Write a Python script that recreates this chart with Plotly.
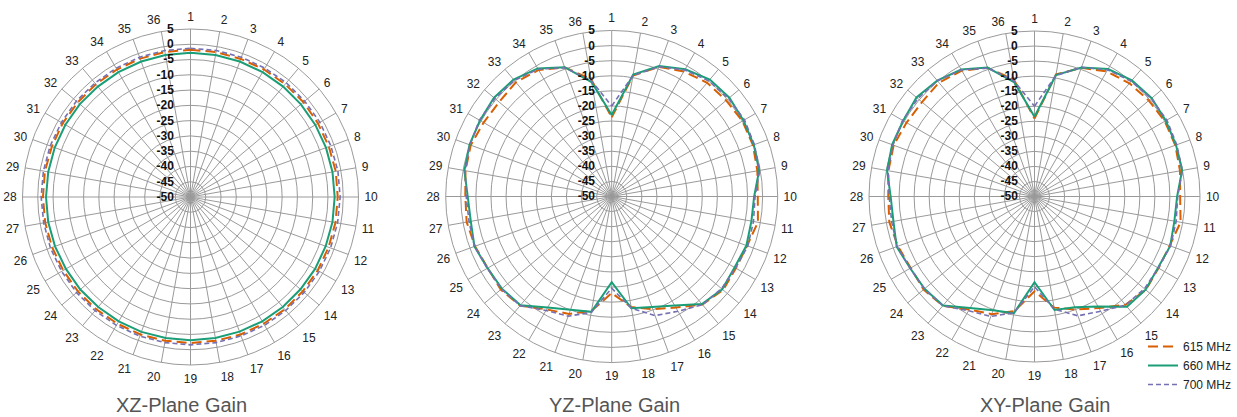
import plotly.graph_objects as go

angles = [str(i) for i in range(1, 37)]
series_names = ["615 MHz", "660 MHz", "700 MHz"]
radial_ticks = [5, 0, -5, -10, -15, -20, -25, -30, -35, -40, -45, -50]
titles = ["XZ-Plane Gain", "YZ-Plane Gain", "XY-Plane Gain"]

# XZ-plane gain (dBi)
xz_615 = [-1.8, -1.8, -1.9, -1.8, -1.8, -1.7, -1.8, -1.8, -1.7, -1.8, -1.8, -1.9, -1.9, -2.0, -2.0, -2.1,
          -2.1, -2.2, -2.2, -2.2, -2.1, -2.1, -2.0, -1.9, -1.9, -1.8, -1.7, -1.7, -1.6, -1.7, -1.7, -1.8,
          -1.8, -1.8, -1.8, -1.8]
xz_660 = [-2.8, -2.8, -2.8, -2.8, -2.8, -2.8, -2.8, -2.8, -2.8, -2.8, -2.8, -2.9, -2.9, -3.0, -3.0, -3.0,
          -3.1, -3.1, -3.1, -3.1, -3.0, -3.0, -3.0, -2.9, -2.9, -2.8, -2.7, -2.7, -2.7, -2.7, -2.7, -2.7,
          -2.8, -2.8, -2.8, -2.8]
xz_700 = [-1.3, -1.3, -1.3, -1.3, -1.2, -1.2, -1.1, -1.1, -1.0, -1.0, -1.1, -1.2, -1.3, -1.4, -1.5, -1.5,
          -1.6, -1.6, -1.6, -1.6, -1.5, -1.5, -1.4, -1.3, -1.3, -1.2, -1.2, -1.1, -1.1, -1.1, -1.2, -1.2,
          -1.3, -1.3, -1.3, -1.3]

# YZ-plane gain (dBi)
yz_615 = [-23.8, -9.3, -4.3, -2.2, -0.8, -0.5, 0.0, -0.2, -1.0, -1.6, -0.8, -2.3, -2.5, -1.8, -3.3, -7.5,
          -10.3, -12.8, -18.0, -11.5, -8.6, -6.8, -2.8, -2.0, -2.6, -1.8, -1.2, -1.5, -0.8, -0.3, -1.0, -1.3,
          -0.6, -1.6, -4.5, -10.5]
yz_660 = [-23.0, -9.0, -4.0, -1.3, 0.6, 0.9, 0.4, 0.1, -0.4, -2.8, -3.0, -2.5, -3.0, -2.2, -3.5, -8.3,
          -11.0, -12.4, -21.6, -11.2, -10.1, -7.5, -3.0, -2.5, -2.5, -1.6, -2.6, -2.3, -0.45, 0.15, 0.4, 0.9,
          0.6, -1.0, -4.4, -11.5]
yz_700 = [-20.0, -9.3, -4.2, -1.6, 0.0, 0.5, 0.8, 0.3, -0.2, -2.5, -2.3, -2.0, -2.6, -2.5, -3.2, -6.1,
          -8.0, -12.4, -19.6, -11.0, -7.8, -6.4, -2.8, -2.3, -2.4, -1.6, -2.0, -1.8, -0.7, 0.0, 0.6, 0.5,
          0.2, -1.3, -4.6, -11.0]

# XY-plane gain (dBi)
xy_615 = [-24.1, -8.8, -4.5, -2.0, -0.9, -0.4, 0.0, -0.2, -0.9, -1.6, -0.7, -2.2, -2.4, -1.7, -3.0, -7.2,
          -10.0, -12.5, -18.5, -11.3, -8.4, -6.6, -2.6, -1.9, -2.5, -1.7, -1.0, -1.4, -0.7, -0.2, -0.9, -1.2,
          -0.6, -1.7, -4.5, -10.5]
xy_660 = [-23.5, -9.0, -4.35, -1.1, 0.35, 0.85, 0.4, 0.05, -0.2, -2.6, -2.8, -2.0, -2.6, -1.8, -2.2, -7.8,
          -10.8, -11.7, -21.5, -10.6, -9.8, -7.2, -2.7, -2.3, -2.3, -1.25, -2.4, -2.2, -0.25, 0.35, 0.4, 1.2,
          0.3, -1.3, -4.4, -11.5]
xy_700 = [-20.0, -9.2, -4.3, -1.4, 0.0, 0.6, 0.8, 0.3, -0.1, -2.4, -2.2, -1.9, -2.5, -2.3, -2.9, -6.0,
          -7.8, -12.0, -20.0, -10.8, -7.6, -6.2, -2.6, -2.2, -2.3, -1.4, -1.8, -1.7, -0.6, 0.1, 0.6, 0.6,
          0.2, -1.4, -4.6, -11.0]

plots = [
    (xz_615, xz_660, xz_700),
    (yz_615, yz_660, yz_700),
    (xy_615, xy_660, xy_700),
]

colors = ["#d95f02", "#1b9e77", "#7570b3"]
dashes = ["10px,5px", "solid", "5px,3px"]
widths = [2, 2, 1.6]

W, H = 1237, 417
# (center x px, center y px, radius px) for each polar panel
geo = [(190.5, 197.0, 168.0), (611.7, 196.5, 166.0), (1034.5, 196.5, 165.5)]
title_x = [181.7, 614.3, 1044.7]

fig = go.Figure()
FONT = "Liberation Sans"

for pi, series in enumerate(plots):
    pname = "polar" if pi == 0 else f"polar{pi + 1}"
    for si, vals in enumerate(series):
        fig.add_trace(go.Scatterpolar(
            r=list(vals) + [vals[0]],
            theta=angles + [angles[0]],
            mode="lines",
            name=series_names[si],
            line=dict(color=colors[si], width=widths[si], dash=dashes[si]),
            subplot=pname,
            showlegend=(pi == 2),
            legendrank=si,
            hoverinfo="skip",
        ))
    cx, cy, R = geo[pi]
    fig.layout[pname] = dict(
        domain=dict(x=[(cx - R) / W, (cx + R) / W], y=[1 - (cy + R) / H, 1 - (cy - R) / H]),
        bgcolor="white",
        angularaxis=dict(
            type="category",
            categoryarray=angles,
            direction="clockwise",
            rotation=90,
            showgrid=True,
            gridcolor="#9a9a9a",
            gridwidth=1,
            showline=True,
            linecolor="#9a9a9a",
            linewidth=1,
            ticks="outside",
            ticklen=3,
            tickcolor="rgba(0,0,0,0)",
            tickfont=dict(family=FONT, size=12, color="#222"),
        ),
        radialaxis=dict(
            range=[-50, 5],
            tickvals=radial_ticks,
            ticktext=[str(t) for t in radial_ticks],
            angle=90,
            tickangle=90,
            side="counterclockwise",
            showline=False,
            showgrid=True,
            gridcolor="#9a9a9a",
            gridwidth=1,
            ticks="outside",
            ticklen=12,
            tickcolor="rgba(0,0,0,0)",
            tickfont=dict(family=FONT, size=12, color="#111", weight="bold"),
        ),
    )
    fig.add_annotation(
        text=titles[pi], x=title_x[pi] / W, y=1 - 405 / H, xref="paper", yref="paper",
        xanchor="center", yanchor="middle", showarrow=False,
        font=dict(family=FONT, size=20, color="#555"),
    )

fig.update_layout(
    width=W, height=H,
    margin=dict(l=0, r=0, t=0, b=0),
    paper_bgcolor="white",
    plot_bgcolor="white",
    showlegend=True,
    legend=dict(
        x=1.0, xanchor="right", y=1 - 399 / H, yanchor="bottom",
        font=dict(family=FONT, size=12, color="#222"),
        bgcolor="rgba(0,0,0,0)",
        tracegroupgap=0,
        itemwidth=30,
    ),
)

fig.write_html("out.html", config={"displayModeBar": False},
               post_script="document.body.style.margin='0';")
